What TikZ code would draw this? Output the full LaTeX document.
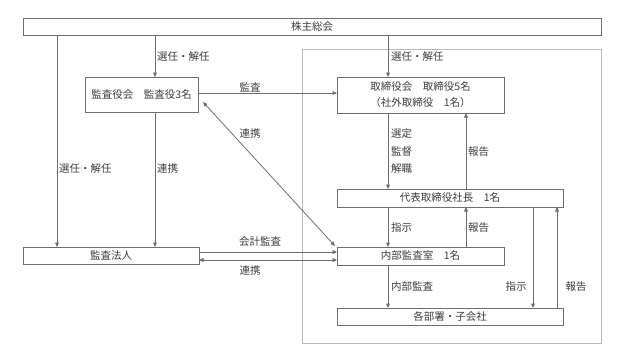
\documentclass[tikz,border=0pt]{standalone}
\usepackage{fontspec}
\setmainfont{Noto Sans CJK JP}
\usetikzlibrary{arrows.meta}
\definecolor{linec}{RGB}{110,110,110}
\definecolor{framec}{RGB}{185,185,185}
\definecolor{textc}{RGB}{60,60,60}
\tikzset{
  box/.style={draw=linec, line width=0.9pt, inner sep=0pt, outer sep=0pt, anchor=north west, font=\fontsize{10.5}{16}\selectfont, text=textc, align=center},
  lbl/.style={inner sep=0pt, font=\fontsize{10.5}{18}\selectfont, text=textc, align=left},
  arr/.style={draw=linec, line width=0.8pt, -{Triangle[length=4.5pt,width=3.8pt]}},
  arrb/.style={draw=linec, line width=0.8pt, {Triangle[length=4.5pt,width=3.8pt]}-{Triangle[length=4.5pt,width=3.8pt]}},
}
\begin{document}
\begin{tikzpicture}[x=1pt,y=-1pt]
\useasboundingbox (0,0) rectangle (628,361);
% group frame
\draw[framec, line width=0.9pt] (302,49) rectangle (601,343);
% boxes
\node[box, minimum width=578pt, minimum height=17pt] (kabu) at (23,18) {株主総会};
\node[box, minimum width=113pt, minimum height=35pt] (kansa) at (85,77) {監査役会　監査役3名};
\node[box, minimum width=167pt, minimum height=36pt] (tori) at (337,77) {取締役会　取締役5名\\（社外取締役　1名）};
\node[box, minimum width=226pt, minimum height=18pt] (daihyo) at (337,189) {代表取締役社長　1名};
\node[box, minimum width=176pt, minimum height=17pt] (hojin) at (23,247) {監査法人};
\node[box, minimum width=167pt, minimum height=18pt] (naibu) at (337,247) {内部監査室　1名};
\node[box, minimum width=226pt, minimum height=17pt] (kaku) at (337,308) {各部署・子会社};
% reference coordinates
\coordinate (xa) at (57,0);
\coordinate (xb) at (155,0);
\coordinate (xc) at (388,0);
\coordinate (xd) at (466,0);
\coordinate (xe) at (533,0);
\coordinate (xf) at (557,0);
\coordinate (ya) at (0,93);
\coordinate (yb) at (0,252);
\coordinate (yc) at (0,260);
% connectors
\draw[arr] (kabu.south -| xa) -- (hojin.north -| xa);
\draw[arr] (kabu.south -| xb) -- (kansa.north -| xb);
\draw[arr] (kabu.south -| xc) -- (tori.north -| xc);
\draw[arr] (kansa.south -| xb) -- (hojin.north -| xb);
\draw[arr] (kansa.east |- ya) -- (tori.west |- ya);
\draw[arrb] ([shift={(5,-10)}]kansa.south east) -- ([shift={(-2,-1)}]naibu.north west);
\draw[arr] (tori.south -| xc) -- (daihyo.north -| xc);
\draw[arr] (daihyo.north -| xd) -- (tori.south -| xd);
\draw[arr] (daihyo.south -| xc) -- (naibu.north -| xc);
\draw[arr] (naibu.north -| xd) -- (daihyo.south -| xd);
\draw[arr] (daihyo.south -| xe) -- (kaku.north -| xe);
\draw[arr] (kaku.north -| xf) -- (daihyo.south -| xf);
\draw[arr] (naibu.south -| xc) -- (kaku.north -| xc);
\draw[arr] (hojin.east |- yb) -- (naibu.west |- yb);
\draw[arrb] (hojin.east |- yc) -- (naibu.west |- yc);
% labels
\node[lbl, anchor=west] (l1) at (157,57) {選任・解任};
\node[lbl, anchor=west] (l2) at (391,57) {選任・解任};
\node[lbl] (l3) at (250,87) {監査};
\node[lbl] (l4) at (250,134) {連携};
\node[lbl, anchor=west] (l5) at (59,169) {選任・解任};
\node[lbl, anchor=west] (l6) at (157,169) {連携};
\node[lbl, anchor=west] (l7) at (391,134) {選定};
\node[lbl, anchor=west] (l8) at (391,152) {監督};
\node[lbl, anchor=west] (l9) at (391,169) {解職};
\node[lbl, anchor=west] (l10) at (468,152) {報告};
\node[lbl, anchor=west] (l11) at (391,228) {指示};
\node[lbl, anchor=west] (l12) at (468,228) {報告};
\node[lbl] (l13) at (260,242) {会計監査};
\node[lbl] (l14) at (250,271) {連携};
\node[lbl, anchor=west] (l15) at (391,287) {内部監査};
\node[lbl] (l16) at (516,287) {指示};
\node[lbl] (l17) at (576,287) {報告};
\end{tikzpicture}
\end{document}
